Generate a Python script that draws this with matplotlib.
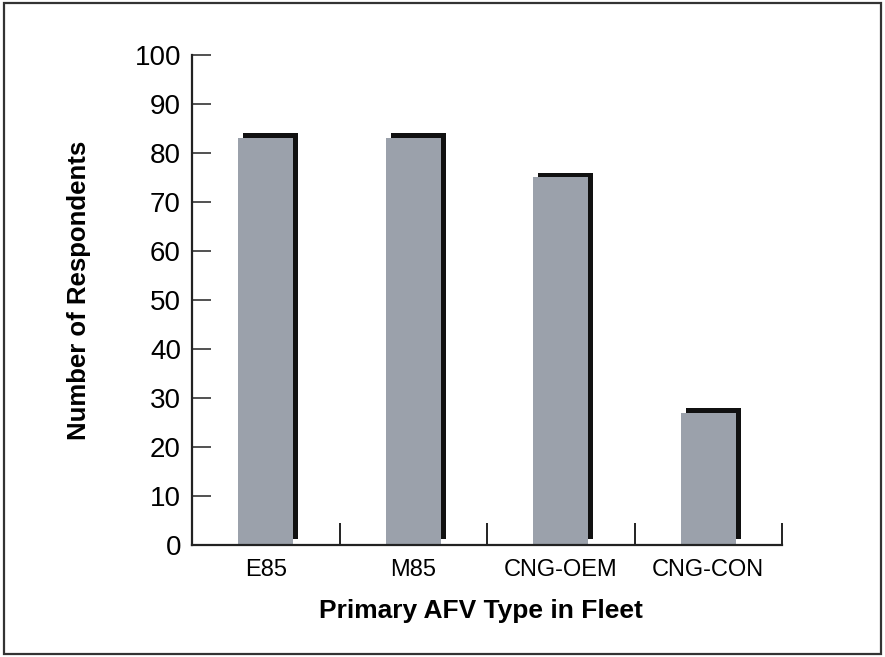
import matplotlib.pyplot as plt
from matplotlib.patches import Rectangle

# ------------------------------------------------------------
# Survey counts by primary AFV type
# ------------------------------------------------------------

AFV_TYPES = ["E85", "M85", "CNG-OEM", "CNG-CON"]
RESPONDENTS = [83, 83, 75, 27]
Y_TICKS = [0, 10, 20, 30, 40, 50, 60, 70, 80, 90, 100]

BAR_COLOR = "#9ba1ab"
SHADOW_COLOR = "#111111"
BAR_WIDTH = 0.375
SHADOW_DX = 0.034
SHADOW_DY = 1.0

plt.rcParams["font.family"] = ["Liberation Sans", "DejaVu Sans"]


def main():
    fig = plt.figure(figsize=(8.85, 6.57), dpi=100)
    ax = fig.add_axes([0.217, 0.1705, 0.6666, 0.7458])

    positions = list(range(len(AFV_TYPES)))

    # black drop shadow sits behind each bar, shifted up and right
    for x, value in zip(positions, RESPONDENTS):
        ax.add_patch(
            Rectangle(
                (x - BAR_WIDTH / 2 + SHADOW_DX, 1.2),
                BAR_WIDTH,
                value - 1.2 + SHADOW_DY,
                facecolor=SHADOW_COLOR,
                edgecolor="none",
                zorder=1,
            )
        )
    ax.bar(positions, RESPONDENTS, width=BAR_WIDTH, color=BAR_COLOR, zorder=2)

    ax.set_xlim(-0.5, len(AFV_TYPES) - 0.5)
    ax.set_ylim(0, 100)

    for side in ["top", "right"]:
        ax.spines[side].set_visible(False)
    for side in ["left", "bottom"]:
        ax.spines[side].set_linewidth(1.6)
        ax.spines[side].set_color("#222222")

    ax.set_yticks(Y_TICKS)
    ax.tick_params(axis="y", direction="in", length=13.5, width=1.2,
                   color="#333333", labelsize=20, pad=8)

    # category separators as upward minor ticks, labels on the majors
    ax.set_xticks(positions)
    ax.set_xticklabels(AFV_TYPES)
    ax.set_xticks([p + 0.5 for p in positions], minor=True)
    ax.tick_params(axis="x", which="major", length=0, labelsize=17, pad=10)
    ax.tick_params(axis="x", which="minor", direction="in", length=16,
                   width=1.4, color="#222222")

    ax.set_ylabel("Number of Respondents", fontsize=18.5, fontweight="bold")
    ax.yaxis.set_label_coords(-0.172, 0.52)
    ax.set_xlabel("Primary AFV Type in Fleet", fontsize=19, fontweight="bold")
    ax.xaxis.set_label_coords(0.49, -0.11)
    ax.xaxis.label.set_va("top")

    # outer frame around the whole figure
    fig.patches.append(
        Rectangle((0.004, 0.005), 0.992, 0.99, transform=fig.transFigure,
                  fill=False, edgecolor="#333333", linewidth=1.6)
    )

    fig.savefig("out.png", dpi=100)
    plt.close(fig)


if __name__ == "__main__":
    main()
